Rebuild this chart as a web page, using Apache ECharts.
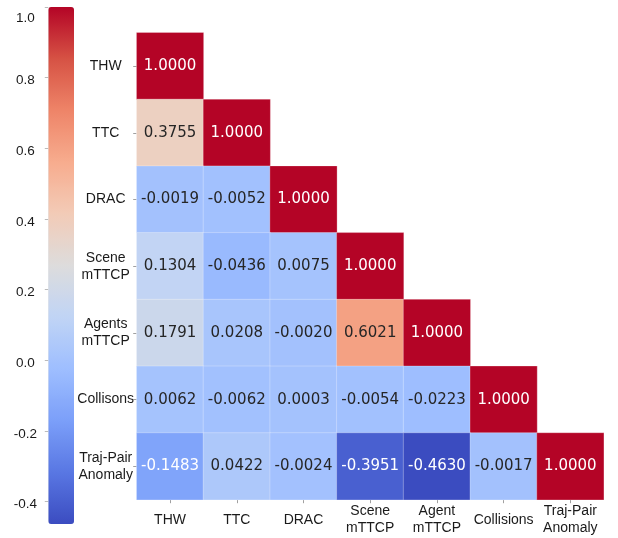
<!DOCTYPE html>
<html>
<head>
<meta charset="utf-8">
<script src="https://cdn.jsdelivr.net/npm/echarts@6/dist/echarts.min.js"></script>
<style>
  html, body { margin: 0; padding: 0; background: #fff; }
  #chart { width: 618px; height: 538px; }
</style>
</head>
<body>
<div id="chart"></div>
<script>
// Metric names along each axis
const colLabels = ['THW', 'TTC', 'DRAC', 'Scene\nmTTCP', 'Agent\nmTTCP', 'Collisions', 'Traj-Pair\nAnomaly'];
const rowLabels = ['THW', 'TTC', 'DRAC', 'Scene\nmTTCP', 'Agents\nmTTCP', 'Collisons', 'Traj-Pair\nAnomaly'];

// Lower-triangular correlation values, one array per row
const rowTHW = [1.0000];
const rowTTC = [0.3755, 1.0000];
const rowDRAC = [-0.0019, -0.0052, 1.0000];
const rowScene = [0.1304, -0.0436, 0.0075, 1.0000];
const rowAgents = [0.1791, 0.0208, -0.0020, 0.6021, 1.0000];
const rowCollisions = [0.0062, -0.0062, 0.0003, -0.0054, -0.0223, 1.0000];
const rowTrajPair = [-0.1483, 0.0422, -0.0024, -0.3951, -0.4630, -0.0017, 1.0000];
const rows = [rowTHW, rowTTC, rowDRAC, rowScene, rowAgents, rowCollisions, rowTrajPair];

// Colour scale range and colour-bar ticks
const scaleMin = -0.463;
const scaleMax = 1.0;
const barTicks = [-0.4, -0.2, 0.0, 0.2, 0.4, 0.6, 0.8, 1.0];

// coolwarm, low to high
const coolwarm = ['#3b4cc0', '#5977e3', '#7b9ff9', '#9ebeff', '#c0d4f5', '#dddcdc',
                  '#f2cbb7', '#f7ac8e', '#ee8468', '#d65244', '#b40426'];

const cells = [];
rows.forEach((vals, r) => vals.forEach((v, c) => cells.push({
  value: [c, r, v],
  // light text on the darkest cells, dark text elsewhere
  label: { color: (v >= 0.8 || v <= -0.14) ? '#ffffff' : '#262626' }
})));

const tickFont = { fontFamily: 'Liberation Sans', fontSize: 14, color: '#1a1a1a' };
const barFont = { fontFamily: 'Liberation Sans', fontSize: 13.5, color: '#1a1a1a' };

const chart = echarts.init(document.getElementById('chart'), null, { renderer: 'canvas' });
chart.setOption({
  animation: false,
  backgroundColor: '#fff',
  grid: [
    { left: 136.7, top: 32.7, width: 467, height: 467 },
    { left: 48.3, top: 7, width: 25.7, height: 517 }
  ],
  xAxis: [
    {
      type: 'category', gridIndex: 0, data: colLabels, position: 'bottom',
      axisLine: { show: false },
      axisTick: { show: true, alignWithLabel: true, length: 3.5, lineStyle: { color: '#888', width: 0.8 } },
      axisLabel: Object.assign({ margin: 20, verticalAlign: 'middle', align: 'center', lineHeight: 17, interval: 0 }, tickFont),
      splitLine: { show: false }
    },
    { type: 'value', gridIndex: 1, show: false, min: 0, max: 1 }
  ],
  yAxis: [
    {
      type: 'category', gridIndex: 0, data: rowLabels, inverse: true,
      axisLine: { show: false },
      axisTick: { show: true, alignWithLabel: true, length: 3.5, lineStyle: { color: '#888', width: 0.8 } },
      axisLabel: Object.assign({ margin: 31, align: 'center', lineHeight: 17, interval: 0 }, tickFont),
      splitLine: { show: false }
    },
    {
      type: 'value', gridIndex: 1, min: scaleMin, max: scaleMax,
      axisLine: { show: false },
      splitLine: { show: false },
      axisTick: { show: true, length: 3.5, customValues: barTicks, lineStyle: { color: '#aaa', width: 0.8 } },
      axisLabel: {
        margin: 23, align: 'center', customValues: barTicks,
        formatter: v => (Math.abs(v - scaleMax) < 1e-9 ? '{top|' : '{n|') + v.toFixed(1) + '}',
        rich: {
          n: Object.assign({ padding: [6, 0, 0, 0] }, barFont),
          top: Object.assign({ padding: [22, 0, 0, 0] }, barFont)
        }
      }
    }
  ],
  visualMap: {
    type: 'continuous',
    min: scaleMin, max: scaleMax,
    seriesIndex: 0,
    calculable: false,
    show: true,
    orient: 'vertical',
    left: 48.3, top: 7,
    itemWidth: 25.7, itemHeight: 517,
    padding: 0,
    text: null,
    hoverLink: false,
    inRange: { color: coolwarm }
  },
  series: [
    {
      type: 'heatmap',
      xAxisIndex: 0, yAxisIndex: 0,
      data: cells,
      itemStyle: { borderColor: 'rgba(255,255,255,0.45)', borderWidth: 0.6 },
      label: {
        show: true,
        fontFamily: 'DejaVu Sans',
        fontSize: 15,
        formatter: p => p.value[2].toFixed(4)
      }
    }
  ]
});
</script>
</body>
</html>
